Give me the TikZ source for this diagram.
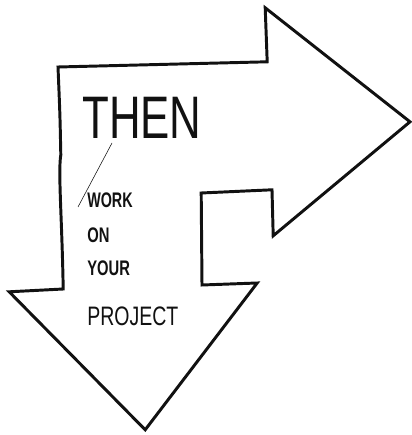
\documentclass[tikz,border=0pt]{standalone}
\usepackage{fontspec}
\usepackage{graphicx}
\usepackage{xcolor}
\usepackage{tikz}
\setmainfont{Liberation Sans}
\definecolor{SKInk}{HTML}{111111}
\tikzset{
  word/.style={anchor=west,inner sep=0pt,text=SKInk},
  outline/.style={SKInk,line width=2.1pt,line join=miter}
}

\begin{document}
\begin{tikzpicture}[x=1cm,y=1cm]
\path[use as bounding box] (0,0) rectangle (10.30,10.875);
\draw[outline] (1.45,9.20) -- (6.68,9.33) -- (6.63,10.68) -- (10.25,7.83) -- (6.83,4.98)
  -- (6.80,6.13) -- (5.03,6.05) -- (5.05,3.75) -- (6.43,3.80) -- (3.63,0.13)
  -- (0.23,3.58) -- (1.58,3.65) .. controls (1.55,5.40) and (1.45,6.60) .. (1.52,7.00)
  .. controls (1.50,8.00) .. cycle;
\node[word] (then) at (2.05,7.93) {\scalebox{0.73}[1]{\fontsize{42.7}{44}\selectfont THEN}};
\node[word] (work) at (2.175,5.875) {\scalebox{0.68}[1]{\fontsize{15}{16}\selectfont\bfseries WORK}};
\node[word] (on) at (2.175,5.00) {\scalebox{0.7}[1]{\fontsize{15}{16}\selectfont\bfseries ON}};
\node[word] (your) at (2.175,4.175) {\scalebox{0.7}[1]{\fontsize{15}{16}\selectfont\bfseries YOUR}};
\node[word] (project) at (2.175,2.975) {\scalebox{0.73}[1]{\fontsize{19}{20}\selectfont PROJECT}};
\draw[SKInk,line width=0.4pt] (2.80,7.30) -- (1.95,5.70);
\end{tikzpicture}
\end{document}
